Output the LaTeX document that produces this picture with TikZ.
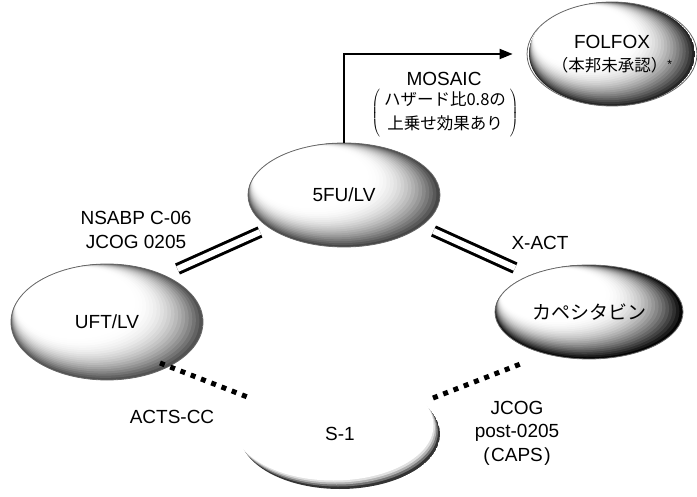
\documentclass[tikz,border=0pt]{standalone}
\usepackage{fontspec}
\setmainfont{Liberation Sans}
\newfontfamily\jp{Noto Sans CJK JP}
\usetikzlibrary{shapes.geometric,arrows.meta,calc}
% stepped "shaded ball" drawn with nested filled ellipses, clipped to the outline
% #1,#2 centre; #3,#4 radii; #5 max darkness; #6 size below which it is white; #7 list of sizes; #8 shift factor
\newcommand\ballbg[8]{%
  \begin{scope}
  \clip (#1,#2) ellipse [x radius=#3, y radius=#4];
  \foreach \sv in {#7} {
    \pgfmathsetmacro\uv{max(0,(\sv-#6)/(1-#6))}
    \pgfmathsetmacro\dk{#5*\uv*\uv}
    \fill[black!\dk] ({#1-(1-\sv)*#8*#3},{#2-(1-\sv)*#8*#4}) ellipse [x radius={\sv*#3}, y radius={\sv*#4}];
  }
  \end{scope}}
\begin{document}
\begin{tikzpicture}[x=1bp,y=-1bp,
  lat/.style={font=\fontsize{19bp}{23.5bp}\selectfont, inner sep=0pt, align=center},
  ell/.style={ellipse, inner sep=0pt, font=\fontsize{19bp}{23.5bp}\selectfont, align=center},
  rim/.style={draw=black!60, line width=0.8bp},
  dbl/.style={draw=black, line width=3bp, double=white, double distance=6bp},
  sq/.style={draw=black, line width=5bp, dash pattern=on 5bp off 6bp},
  arr/.style={draw=black, line width=1.8bp, -{Triangle[length=13bp,width=10bp]}}
]
\useasboundingbox (0,0) rectangle (697,497);
% shaded ball bodies
\ballbg{344}{195}{96}{52}{72}{0.6}{1.00,0.98,...,0.56}{0.85}
\ballbg{107}{322}{96}{58}{68}{0.62}{1.00,0.98,...,0.56}{0.85}
\ballbg{589}{312}{94}{47}{98}{0.55}{1.00,0.98,...,0.5}{0.85}
\ballbg{612}{54}{83}{52}{85}{0.58}{1.00,0.98,...,0.52}{0.85}
% S-1: only a crescent on the lower right
\begin{scope}
  \clip (340,434) ellipse [x radius=100, y radius=55];
  \fill[black!80] (340,434) ellipse [x radius=100, y radius=55];
  \fill[black!55] (338,431.5) ellipse [x radius=100, y radius=55];
  \fill[black!30] (336.5,429.5) ellipse [x radius=100, y radius=55];
  \fill[black!12] (335,427.5) ellipse [x radius=100, y radius=55];
\end{scope}
\fill[white] (333.5,425.5) ellipse [x radius=100, y radius=55];
% ellipses
\node[ell, rim, minimum width=192bp, minimum height=104bp] (fu) at (344,195) {5FU/LV};
\node[ell, rim, minimum width=192bp, minimum height=116bp] (uft) at (107,322) {UFT/LV};
\node[ell, rim, minimum width=188bp, minimum height=94bp] (cap) at (589,312) {\jp\fontsize{19bp}{23.5bp}\selectfont カペシタビン};
\node[ell, rim, minimum width=166bp, minimum height=104bp] (folfox) at (612,54) {FOLFOX\\{\jp\fontsize{16.5bp}{22bp}\selectfont （本邦未承認）}\raisebox{3bp}{\fontsize{12bp}{12bp}\selectfont *}};
\node[ell, minimum width=200bp, minimum height=110bp] (s1) at (340,434) {S-1};
% connectors
\draw[arr] (fu.north) |- ([xshift=-14bp]folfox.west);
\draw[dbl] ($(uft.center)+(70.5,-53)$) -- ($(fu.center)+(-84,37)$);
\draw[dbl] ($(fu.center)+(89.5,36)$) -- ($(cap.center)+(-74,-44)$);
\draw[sq] ($(uft.center)+(53,41)$) -- ($(s1.center)+(-90,-36)$);
\draw[sq] ($(s1.center)+(93,-36)$) -- ($(cap.center)+(-66,51)$);
% labels
\node[lat] (mosaic) at (444,79) {MOSAIC};
\node[inner sep=0pt] (haz) at (445,113) {$\left(\kern4bp\vcenter{\hbox{\jp\fontsize{16.5bp}{24bp}\selectfont\begin{tabular}{@{}c@{}}ハザード比0.8の\\上乗せ効果あり\end{tabular}}}\kern4bp\right)$};
\node[lat] (nsabp) at (136,230) {NSABP C-06\\JCOG 0205};
\node[lat] (xact) at (540,243) {X-ACT};
\node[lat] (acts) at (172,417) {ACTS-CC};
\node[lat] (jcog) at (517,433) {JCOG\\post-0205\\(\kern1.5bp CAPS\kern1.5bp)};
\end{tikzpicture}
\end{document}
